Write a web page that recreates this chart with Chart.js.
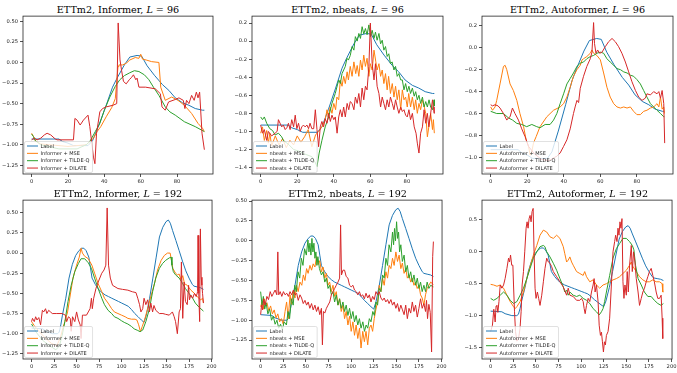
<!DOCTYPE html>
<html>
<head>
<meta charset="utf-8">
<script src="https://cdn.jsdelivr.net/npm/chart.js@4.4.1/dist/chart.umd.min.js"></script>
<style>
  body { margin: 0; background: #fff; width: 677px; height: 373px; overflow: hidden; position: relative; }
  canvas { position: absolute; }
  .ttl { position: absolute; font-family: "DejaVu Serif"; font-size: 9.6px; line-height: 10px; text-align: center; white-space: nowrap; color: #000; }
</style>
</head>
<body>
<script>
// ---- ticks ----
const xTicks96 = [0, 20, 40, 60, 80];
const xTicks192 = [0, 25, 50, 75, 100, 125, 150, 175, 200];
const yTicksInf96 = [-1.25, -1.0, -0.75, -0.5, -0.25, 0, 0.25, 0.5];
const yTicksNb96 = [-1.4, -1.2, -1.0, -0.8, -0.6, -0.4, -0.2, 0, 0.2];
const yTicksAuto96 = [-1.0, -0.8, -0.6, -0.4, -0.2, 0, 0.2];
const yTicksInf192 = [-1.25, -1.0, -0.75, -0.5, -0.25, 0, 0.25, 0.5];
const yTicksNb192 = [-1.25, -1.0, -0.75, -0.5, -0.25, 0, 0.25, 0.5];
const yTicksAuto192 = [-1.5, -1.0, -0.5, 0, 0.5];

// ---- ground truth ----
const label96 = [[0,-0.93],[15,-0.93],[17,-0.96],[20,-0.98],[23,-1.01],[31,-1.01],[33.5,-0.95],[37,-0.76],[41,-0.52],[44.5,-0.30],[47,-0.19],[51,-0.03],[54,0.066],[58,0.085],[60.5,0.077],[63.5,-0.04],[67.5,-0.155],[72,-0.27],[75.5,-0.34],[79,-0.43],[83,-0.49],[86.5,-0.52],[90,-0.56],[94,-0.58],[95,-0.58]];
const label192 = [[0,-0.93],[12.4,-0.94],[16,-0.97],[23.4,-1.0],[28.9,-1.0],[30.7,-0.98],[32.5,-0.89],[34.3,-0.77],[38,-0.56],[41.6,-0.31],[45.3,-0.14],[49,-0.03],[52.6,0.03],[55.5,0.06],[58.1,0.06],[60.6,0.03],[63.6,-0.05],[65.4,-0.18],[67.2,-0.31],[70.9,-0.39],[74.5,-0.45],[78.2,-0.49],[81.8,-0.52],[85.5,-0.54],[89.1,-0.56],[92.8,-0.58],[96.5,-0.6],[100.1,-0.62],[103.8,-0.64],[107.4,-0.66],[111,-0.7],[114.7,-0.75],[118.4,-0.79],[122,-0.83],[125,-0.86],[127.5,-0.77],[131.2,-0.56],[134.8,-0.31],[138.5,-0.05],[142.1,0.2],[145.8,0.32],[149.4,0.39],[152,0.41],[154.2,0.37],[156.7,0.28],[160.4,0.155],[164,0.03],[167.7,-0.1],[171.4,-0.22],[175,-0.31],[178.7,-0.39],[180.5,-0.41],[184.1,-0.42],[187.8,-0.43],[191,-0.45]];

// ---- Informer, L = 96 ----
const inf96Mse = [[0,-0.86],[1,-0.9],[2,-0.95],[5,-0.99],[10,-1.0],[20,-1.02],[30,-1.0],[34,-0.92],[36,-0.84],[38,-0.78],[41,-0.66],[44,-0.55],[46,-0.44],[47.5,-0.05],[48,-0.03],[50,-0.03],[52,-0.01],[54,0.03],[57,0.06],[59,0.05],[60,0.1],[61,0.04],[63,0.03],[66,0.01],[70,0.0],[71,-0.3],[73.5,-0.46],[77,-0.42],[80.5,-0.46],[84,-0.52],[88,-0.62],[91.5,-0.74],[94,-0.8],[95,-0.84]];
const inf96Tilde = [[0,-0.87],[1,-0.9],[2,-0.95],[5,-1.0],[15,-1.05],[25,-1.05],[30,-1.0],[32,-0.96],[35,-0.84],[37.5,-0.74],[40,-0.58],[43,-0.42],[46,-0.29],[48.5,-0.21],[51,-0.16],[54,-0.125],[56.5,-0.1],[59,-0.11],[62,-0.15],[64.5,-0.21],[67,-0.3],[70,-0.4],[73.5,-0.54],[76,-0.6],[79,-0.64],[84,-0.72],[90,-0.78],[95,-0.84]];
const inf96Dilate = [[0,-0.94],[1.5,-0.92],[3,-0.94],[5,-0.92],[7,-0.88],[8.5,-0.86],[10.5,-0.88],[13,-0.93],[14,-0.94],[23,-0.94],[23.8,-0.68],[25,-0.7],[26.7,-0.76],[28.5,-0.7],[31,-0.64],[32,-0.78],[34,-1.15],[34.8,-1.23],[35.7,-0.86],[37.5,-0.6],[39,-0.56],[41,-0.54],[44.7,-0.52],[46.8,-0.5],[47.6,0.48],[48.6,0.03],[49.5,-0.1],[50.5,-0.23],[52,-0.26],[53.7,-0.21],[55,-0.18],[56,-0.15],[57.3,-0.21],[58,-0.19],[59,-0.3],[62.7,-0.3],[68,-0.32],[70.8,-0.38],[71.7,-0.54],[73.5,-0.58],[75.3,-0.48],[79,-0.45],[81,-0.43],[83.4,-0.46],[84.3,-0.56],[85.2,-0.46],[86.5,-0.5],[88,-0.4],[89.4,-0.46],[90.6,-0.36],[91.5,-0.43],[92.4,-0.36],[93.7,-0.86],[95,-1.06]];

// ---- nbeats, L = 96 ----
const nb96Mse = [[0,-1.02],[1,-0.95],[2,-1.1],[3.3,-0.99],[4.2,-1.13],[5,-1.02],[6,-1.16],[8,-1.05],[10,-1.15],[12,-1.08],[14,-1.18],[16,-1.1],[18,-1.15],[20,-1.05],[22,-1.12],[24,-1.06],[26,-0.98],[28,-1.17],[30,-1.04],[31.7,-1.0],[33.5,-0.95],[35.3,-0.87],[36.3,-0.76],[37,-0.84],[38,-0.73],[39,-0.8],[40,-0.69],[41,-0.76],[41.7,-0.62],[42.7,-0.65],[43.6,-0.43],[44.5,-0.5],[45.4,-0.39],[46.3,-0.47],[47.3,-0.34],[48,-0.43],[49,-0.28],[50,-0.39],[51,-0.23],[52,-0.36],[52.8,-0.27],[53.7,-0.39],[54.6,-0.21],[55.5,-0.32],[56.4,-0.155],[57.3,-0.28],[58.2,-0.19],[59.2,-0.39],[60,-0.25],[61,-0.32],[62,-0.1],[63,-0.23],[63.7,-0.32],[64.7,-0.25],[65.6,-0.39],[66.5,-0.32],[67.4,-0.47],[68.3,-0.36],[69.2,-0.54],[70,-0.39],[71,-0.58],[72,-0.47],[72.9,-0.62],[73.8,-0.5],[74.7,-0.65],[75.6,-0.54],[76.6,-0.76],[77.5,-0.54],[78.4,-0.65],[79.3,-0.62],[80.2,-0.73],[81,-0.58],[82,-0.73],[83,-0.62],[84,-0.76],[84.8,-0.65],[85.7,-0.8],[86.6,-0.69],[87.5,-0.76],[88.5,-0.65],[89.4,-0.72],[90.3,-0.8],[91.2,-1.06],[92,-0.95],[93,-0.8],[94,-0.98],[94.5,-0.87],[95,-1.02]];
const nb96Tilde = [[0,-0.84],[1,-0.87],[2,-0.84],[3.3,-0.91],[5,-0.97],[6.5,-0.99],[7.9,-1.04],[9.7,-1.02],[11.5,-1.06],[12.4,-1.1],[15,-1.14],[18,-1.2],[21,-1.22],[24,-1.25],[28,-1.28],[30,-1.35],[30.8,-1.39],[32,-1.24],[33.5,-1.1],[35.3,-0.95],[37.2,-0.84],[39,-0.69],[40.8,-0.58],[42.7,-0.43],[43.6,-0.47],[44.5,-0.36],[46.3,-0.28],[47.2,-0.19],[48,-0.21],[49,-0.16],[50,-0.06],[51,-0.1],[51.8,0.05],[52.8,0.0],[53.7,0.085],[54.6,0.03],[55.5,0.16],[56.4,0.08],[57.3,0.14],[58.2,0.07],[59.2,0.18],[60.1,0.05],[61,0.12],[62,0.03],[62.8,0.1],[63.7,0.01],[64.7,0.085],[65.6,-0.03],[66.5,0.01],[67.4,-0.1],[68.3,-0.06],[69.2,-0.17],[70.1,-0.14],[71,-0.25],[71.9,-0.23],[72.9,-0.32],[73.8,-0.28],[74.7,-0.39],[75.6,-0.36],[76.6,-0.43],[77.5,-0.43],[78.4,-0.54],[79.3,-0.47],[80.2,-0.56],[81.1,-0.5],[82,-0.58],[83,-0.52],[84,-0.61],[84.8,-0.56],[85.7,-0.65],[86.6,-0.6],[87.5,-0.69],[88.5,-0.62],[89.4,-0.73],[90.3,-0.67],[91.2,-0.73],[92.1,-0.65],[93,-0.73],[94,-0.76],[94.9,-0.65],[95,-0.72]];
const nb96Dilate = [[0,-0.93],[1,-1.02],[2,-0.98],[3.3,-1.1],[4.2,-1.0],[6,-1.05],[7.9,-1.02],[9,-1.0],[9.7,-0.87],[11.5,-0.95],[12.4,-0.93],[13.4,-0.98],[14.3,-0.96],[15.2,-0.91],[16.1,-0.98],[17,-0.87],[18,-0.95],[18.9,-0.82],[19.8,-0.97],[20.7,-0.91],[21.6,-1.0],[22.5,-0.95],[23.4,-0.93],[24.3,-0.95],[25.3,-0.93],[26.2,-0.97],[27,-0.91],[28,-0.97],[29,-0.97],[29.9,-0.76],[30.8,-0.98],[31.7,-1.17],[32.6,-0.95],[33.5,-0.89],[34.4,-0.95],[35.3,-0.86],[36.3,-0.91],[37.2,-0.8],[38.1,-0.89],[39,-0.82],[40,-0.87],[40.8,-0.84],[41.8,-1.02],[42.7,-0.84],[43.6,-0.76],[44.5,-0.84],[45.4,-0.73],[46.3,-0.84],[47.3,-0.69],[48.2,-0.76],[49,-0.67],[50,-0.69],[51,-0.76],[51.8,-0.62],[52.8,-0.69],[53.7,-0.58],[54.6,-0.73],[55.5,-0.52],[56.4,-0.65],[57.3,-0.5],[58.2,-0.54],[59.2,-0.28],[60,0.2],[61,-0.25],[62,-0.43],[62.8,-0.25],[63.7,-0.5],[64.7,-0.58],[65.6,-0.73],[66.5,-0.62],[67.4,-0.69],[68.3,-0.76],[69.2,-0.65],[70.1,-0.73],[71,-0.62],[72,-0.69],[72.9,-0.76],[73.8,-0.65],[74.7,-0.73],[75.6,-0.8],[76.6,-0.73],[77.5,-0.78],[78.4,-0.76],[79.3,-0.82],[80.2,-0.84],[81.1,-0.76],[82,-0.87],[83,-0.8],[84,-0.95],[85,-1.02],[85.7,-1.13],[86.6,-1.24],[87.5,-1.02],[88.5,-0.95],[89.4,-0.76],[90.3,-0.91],[91.2,-0.8],[92,-0.95],[93,-0.8],[94,-0.65],[94.9,-0.8],[95,-0.73]];

// ---- Autoformer, L = 96 ----
const auto96Mse = [[0,-0.54],[1,-0.57],[2.4,-0.54],[3.3,-0.48],[5.1,-0.33],[7,-0.17],[7.9,-0.16],[8.8,-0.2],[10.6,-0.33],[12.4,-0.39],[14.3,-0.48],[16,-0.6],[18,-0.72],[19.4,-0.84],[20.7,-0.9],[21.6,-0.98],[22.5,-0.95],[23.4,-0.87],[24.9,-0.81],[27,-0.72],[30.7,-0.63],[34.4,-0.57],[38,-0.54],[39.9,-0.51],[41.7,-0.45],[43.5,-0.36],[45.3,-0.26],[47.2,-0.2],[49,-0.16],[50,-0.11],[50.8,-0.1],[52.6,-0.08],[54.5,-0.05],[55.4,-0.02],[56.3,-0.05],[58.1,-0.07],[60,-0.11],[61.8,-0.23],[63.6,-0.36],[65.4,-0.45],[67.3,-0.51],[69.1,-0.54],[71,-0.55],[72.8,-0.54],[74.6,-0.55],[76.4,-0.54],[78.2,-0.58],[80,-0.61],[81.9,-0.61],[83.7,-0.58],[85.5,-0.57],[87.4,-0.55],[89.2,-0.54],[91,-0.51],[92,-0.54],[92.9,-0.45],[93.8,-0.56],[94.7,-0.54],[95,-0.6]];
const auto96Tilde = [[0,-0.58],[3.3,-0.6],[7,-0.6],[9.7,-0.64],[12,-0.66],[14.3,-0.69],[17,-0.7],[19.7,-0.72],[22.5,-0.7],[25.2,-0.72],[27,-0.73],[29.8,-0.7],[32.5,-0.7],[34.4,-0.66],[36.2,-0.6],[38,-0.51],[39.9,-0.42],[41.7,-0.33],[43.5,-0.28],[45.3,-0.23],[47.2,-0.17],[49,-0.14],[50.8,-0.13],[52.6,-0.1],[54.5,-0.08],[56.3,-0.07],[58.1,-0.05],[60,-0.04],[61.8,-0.05],[63.6,-0.1],[65.4,-0.13],[67.3,-0.16],[69.1,-0.19],[71,-0.2],[72.8,-0.22],[74.6,-0.23],[76.4,-0.25],[78.2,-0.26],[80,-0.29],[81.9,-0.33],[83.7,-0.39],[85.5,-0.45],[87.4,-0.51],[89.2,-0.54],[91,-0.57],[92.9,-0.6],[94.7,-0.63],[95,-0.63]];
const auto96Dilate = [[0,-0.52],[1,-0.53],[2.4,-0.52],[4,-0.53],[5.1,-0.55],[7,-0.6],[8.8,-0.66],[9.7,-0.64],[10.6,-0.63],[11.9,-0.55],[13.3,-0.6],[15.2,-0.66],[17,-0.74],[18.8,-0.81],[20.7,-0.9],[24,-0.97],[28,-1.02],[32,-1.03],[35,-1.0],[36.2,-0.99],[38,-0.96],[39.9,-0.9],[41.7,-0.84],[43.5,-0.74],[45.3,-0.6],[46.2,-0.54],[47.2,-0.48],[48.1,-0.5],[49,-0.37],[50.8,-0.26],[52.6,-0.17],[54.5,-0.1],[55.4,-0.04],[56.3,0.23],[56.8,0.04],[57.6,-0.05],[58.5,-0.02],[59.6,-0.05],[60.9,-0.04],[62.7,0.01],[64.5,0.055],[66.4,0.085],[68.2,0.055],[70,0.01],[71.8,-0.05],[73.7,-0.13],[75.5,-0.22],[77.3,-0.31],[79.2,-0.39],[81,-0.45],[82.8,-0.48],[84.6,-0.46],[85.5,-0.42],[87.4,-0.43],[89.2,-0.4],[91,-0.42],[92,-0.4],[92.9,-0.46],[93.8,-0.39],[94.7,-0.51],[95.2,-0.87]];

// ---- Informer, L = 192 ----
const inf192Mse = [[0,-0.85],[3,-0.9],[8,-0.97],[15,-1.05],[22,-1.12],[28,-1.15],[32,-1.05],[35,-0.92],[37,-0.85],[40,-0.73],[43,-0.52],[46,-0.31],[50,-0.15],[53,-0.05],[55,0.06],[56.5,0.0],[59,-0.04],[63,-0.07],[67,-0.15],[70,-0.25],[74,-0.38],[78,-0.48],[81,-0.56],[85,-0.62],[89,-0.69],[92,-0.73],[96,-0.75],[100,-0.77],[104,-0.79],[107,-0.81],[111,-0.82],[115,-0.82],[117,-0.83],[119,-0.89],[121,-0.975],[123,-0.91],[125.5,-0.83],[129,-0.69],[133,-0.52],[137,-0.36],[140,-0.21],[144,-0.09],[147.5,-0.03],[151,0.0],[154,0.0],[155.5,-0.09],[157,-0.19],[160,-0.25],[162,-0.27],[164,-0.26],[166,-0.33],[168,-0.28],[170,-0.38],[173,-0.4],[177,-0.46],[181,-0.5],[184,-0.54],[186,-0.56],[188,-0.58],[190,-0.56],[191,-0.62]];
const inf192Tilde = [[0,-0.88],[5,-0.98],[12,-1.08],[20,-1.15],[27,-1.2],[31,-1.15],[34,-1.02],[37,-0.85],[40.5,-0.6],[44,-0.4],[48,-0.23],[52,-0.13],[55,-0.07],[59,-0.07],[63,-0.12],[66.5,-0.19],[70,-0.31],[74,-0.44],[78,-0.56],[81,-0.64],[85,-0.71],[89,-0.75],[92,-0.79],[96,-0.81],[100,-0.84],[103,-0.86],[107,-0.88],[111,-0.91],[114,-0.94],[118,-0.96],[120.5,-0.975],[123.5,-0.955],[127,-0.85],[131,-0.69],[134.5,-0.48],[138,-0.31],[142,-0.19],[145.5,-0.13],[149,-0.09],[153,-0.06],[155,-0.05],[156,-0.15],[157.5,-0.23],[160,-0.27],[164,-0.31],[168,-0.38],[171,-0.44],[175,-0.5],[179,-0.56],[182,-0.62],[186,-0.67],[191,-0.72]];
const inf192Dilate = [[0,-0.85],[1,-0.81],[3,-0.85],[4.5,-0.79],[6,-0.83],[8,-0.8],[10,-0.89],[12,-0.71],[13.5,-0.73],[15.5,-0.69],[17,-0.75],[19,-0.71],[21,-0.73],[23,-0.75],[28,-0.75],[34,-0.75],[37.5,-0.77],[39,-0.85],[41,-0.79],[43,-0.81],[44,-0.97],[45.5,-0.79],[48,-0.85],[50,-0.73],[52,-0.83],[54,-0.89],[55,-1.06],[56.5,-0.77],[58,-0.77],[61,-0.77],[63,-0.73],[65,-0.69],[66.5,-0.56],[67.5,-0.69],[69,-0.56],[71.5,-0.44],[74,-0.36],[78,-0.25],[80.5,-0.21],[82.5,-0.15],[84,0.56],[85.5,-0.15],[87.5,-0.31],[90,-0.4],[96,-0.44],[101,-0.45],[107,-0.46],[112,-0.48],[116,-0.49],[118,-0.56],[120,-0.64],[121.5,-0.73],[123.5,-0.69],[125,-0.56],[127,-0.64],[129,-0.58],[131,-0.73],[132.5,-0.62],[134.5,-0.73],[136,-0.65],[138,-0.71],[142,-0.75],[146,-0.75],[149,-0.76],[153,-0.77],[156.5,-0.73],[158.5,-0.79],[160,-0.85],[162,-1.0],[164,-0.73],[165.5,-0.69],[166.5,-0.11],[168,-0.81],[169.5,-0.36],[171,-0.6],[173,-0.64],[174.5,-0.4],[175.5,-0.58],[177,-0.52],[179,-0.56],[181,-0.5],[183,-0.54],[184.5,-0.48],[185,0.22],[185.8,-0.5],[186.8,-0.85],[187.6,0.3],[188.5,-0.3],[189.3,-0.4],[190,-0.5],[191,-0.62]];

// ---- nbeats, L = 192 ----
const nb192Mse = [[0,-0.83],[1.5,-0.77],[3,-0.86],[4,-0.73],[5.5,-0.8],[7,-0.78],[9,-0.88],[11,-0.82],[13,-0.92],[15,-0.87],[17,-0.97],[19,-0.92],[21,-1.02],[23,-0.98],[25,-1.05],[27,-0.89],[28.7,-0.77],[30.5,-0.98],[32.5,-0.68],[34,-0.8],[36,-0.64],[38,-0.72],[39.7,-0.56],[41.5,-0.64],[43.5,-0.52],[45.5,-0.56],[47.2,-0.43],[49,-0.5],[50.8,-0.35],[52.5,-0.41],[54.5,-0.31],[56.3,-0.37],[58.1,-0.29],[60,-0.33],[61.8,-0.2],[63.6,-0.3],[65.4,-0.25],[67.2,-0.39],[69,-0.33],[70.9,-0.47],[72.7,-0.41],[74.5,-0.56],[76.3,-0.52],[78.1,-0.64],[80,-0.56],[81.8,-0.7],[83.6,-0.64],[85.5,-0.81],[87.3,-0.73],[89.1,-0.89],[91,-0.81],[92.8,-0.98],[94.6,-0.89],[96.5,-1.06],[98.3,-0.95],[100.1,-1.14],[102,-1.02],[103.8,-1.19],[105.6,-1.06],[107.4,-1.23],[109.3,-1.1],[111,-1.35],[112.9,-1.14],[114.7,-1.27],[116.5,-1.14],[118.4,-1.31],[120.2,-1.1],[122,-1.06],[123.8,-1.14],[125.6,-0.98],[127.5,-0.86],[129.3,-0.77],[131.1,-0.56],[133,-0.64],[134.8,-0.47],[136.6,-0.56],[138.5,-0.39],[140.3,-0.47],[142.1,-0.31],[144,-0.35],[145.8,-0.22],[147.6,-0.31],[149.5,-0.14],[151.3,-0.26],[153.1,-0.18],[155,-0.35],[156.7,-0.28],[158.6,-0.41],[160.4,-0.35],[162.2,-0.47],[164,-0.43],[165.9,-0.52],[167.7,-0.47],[169.5,-0.56],[171.3,-0.52],[173.1,-0.6],[175,-0.56],[176.8,-0.68],[178.6,-0.72],[180.5,-0.81],[182.3,-0.68],[184.1,-0.6],[186,-0.56],[188,-0.52],[191,-0.55]];
const nb192Tilde = [[0,-0.64],[1.5,-0.81],[3,-0.7],[4.5,-0.86],[6,-0.78],[8,-0.92],[10,-0.86],[12,-1.0],[14,-0.95],[16,-1.05],[18,-1.0],[20,-1.1],[22,-1.05],[24,-1.12],[26,-1.02],[28.5,-1.06],[30.3,-0.89],[32,-0.98],[34,-0.73],[36,-0.81],[37.7,-0.56],[39.5,-0.64],[41.3,-0.39],[43.2,-0.47],[45,-0.22],[46.8,-0.31],[48.6,-0.1],[50.5,-0.18],[52.3,0.01],[53.4,-0.14],[54.5,-0.03],[55.6,-0.18],[56.7,0.03],[57.8,-0.14],[58.9,-0.03],[60,-0.22],[61.1,-0.14],[62.2,-0.31],[63.3,-0.2],[65,-0.35],[67.2,-0.43],[69,-0.39],[70.9,-0.52],[72.7,-0.47],[74.5,-0.6],[76.3,-0.56],[78.2,-0.68],[80,-0.64],[81.8,-0.77],[83.6,-0.68],[85.5,-0.81],[87.3,-0.73],[89.1,-0.85],[91,-0.77],[92.8,-0.89],[94.6,-0.81],[96.5,-0.94],[98.3,-0.85],[100.1,-0.98],[102,-0.89],[103.8,-1.02],[105.6,-0.94],[107.4,-1.06],[109.2,-0.98],[111,-1.1],[113,-1.02],[114.8,-1.14],[116.6,-1.06],[118.4,-1.1],[120.2,-0.98],[122,-1.02],[124,-0.89],[125.7,-0.94],[127.5,-0.77],[129.3,-0.81],[131,-0.6],[133,-0.64],[134.8,-0.43],[136.6,-0.47],[138.5,-0.22],[140.3,-0.31],[142,-0.05],[144,-0.14],[145.8,0.11],[147,-0.05],[148,0.155],[149.1,0.0],[150.3,0.24],[151.4,0.03],[152.5,0.11],[153.6,-0.14],[155,-0.05],[156.7,-0.26],[158.6,-0.18],[160.4,-0.39],[162.2,-0.31],[164,-0.47],[165.9,-0.39],[167.7,-0.52],[169.5,-0.43],[171.4,-0.56],[173.2,-0.47],[175,-0.6],[176.8,-0.52],[178.6,-0.64],[180.5,-0.56],[182.3,-0.64],[184.1,-0.52],[186,-0.6],[188,-0.56],[191,-0.58]];
const nb192Dilate = [[0,-0.93],[1,-0.81],[2.2,-0.87],[3.3,-0.73],[5,-0.81],[6.9,-0.7],[8.7,-0.74],[10.6,-0.64],[12.4,-0.7],[14.2,-0.66],[16,-0.62],[17.9,-0.68],[19,-0.14],[20,-0.68],[21.6,-0.64],[23.4,-0.7],[25.2,-0.64],[27,-0.68],[28.9,-0.66],[30.7,-0.7],[32.5,-0.64],[34.3,-0.68],[36.2,-0.62],[38,-0.68],[39.8,-0.66],[41.6,-0.75],[43.5,-0.68],[45.3,-0.72],[47.1,-0.79],[49,-0.75],[50.8,-0.81],[52.6,-0.77],[54.4,-0.85],[56.3,-0.79],[58.1,-0.87],[60,-0.81],[61.8,-0.89],[63.6,-0.83],[65.4,-0.93],[67.2,-0.85],[68.3,-1.31],[69.4,-0.89],[70.9,-0.91],[72.7,-0.85],[74.5,-0.81],[76.4,-0.77],[78.2,-0.68],[80,-0.64],[81.8,-0.6],[83.6,-0.56],[85.5,-0.52],[87.3,-0.47],[88.4,0.2],[89.4,-0.43],[91,-0.37],[92.8,-0.37],[94.6,-0.45],[96.5,-0.47],[98.3,-0.56],[100.1,-0.58],[102,-0.56],[103.8,-0.62],[105.6,-0.64],[107.4,-0.68],[109.2,-0.64],[111,-0.7],[112.9,-0.68],[114.7,-0.73],[116.5,-0.66],[118.4,-0.72],[120.2,-0.68],[122,-0.77],[123.8,-0.7],[125.6,-0.74],[127.5,-0.64],[129.3,-0.68],[131.1,-0.64],[133,-0.72],[134.8,-0.75],[136.6,-0.72],[138.4,-0.77],[140.3,-0.74],[142,-0.79],[144,-0.74],[145.8,-0.81],[147.6,-0.77],[149.5,-0.85],[151.3,-0.79],[153.1,-0.89],[155,-0.81],[156.8,-0.87],[158.6,-0.93],[160.4,-0.81],[162.2,-0.98],[164,-0.85],[165.9,-0.91],[167.7,-0.77],[169.5,-0.89],[171.3,-0.81],[173.2,-0.96],[175,-0.85],[176.8,-0.73],[178.6,-0.85],[180.5,-0.79],[182.3,-0.89],[183.4,-0.75],[184.5,-0.98],[186,-0.8],[187.5,-0.9],[189,-1.4],[190.2,-0.2],[191,-0.01]];

// ---- Autoformer, L = 192 ----
const auto192Mse = [[0,-0.51],[3.3,-0.52],[7,-0.54],[10.6,-0.52],[14.3,-0.57],[18,-0.68],[21.6,-0.78],[25.3,-0.86],[27.1,-0.89],[29,-0.86],[32.6,-0.78],[36.3,-0.63],[40,-0.42],[43.6,-0.23],[47.3,-0.05],[51,0.1],[54.6,0.26],[58.3,0.34],[62,0.31],[65.6,0.235],[69.3,0.21],[73,0.26],[76.6,0.21],[80.3,0.08],[82,-0.03],[84,-0.16],[85.8,-0.13],[87.6,-0.08],[89.5,-0.16],[91.3,-0.21],[95,-0.31],[98.6,-0.34],[102.3,-0.37],[104,-0.31],[106,-0.39],[109.6,-0.47],[113.3,-0.44],[117,-0.52],[120.6,-0.57],[124.3,-0.52],[128,-0.5],[131.6,-0.47],[135.3,-0.44],[139,-0.42],[142.6,-0.39],[146.3,-0.34],[150,-0.29],[153.6,-0.21],[155.5,-0.16],[157.3,-0.23],[161,-0.31],[164.6,-0.39],[168.3,-0.44],[172,-0.47],[175.6,-0.47],[179.3,-0.44],[183,-0.47],[186.7,-0.47],[189.6,-0.5],[190.3,-0.63],[191,-0.63]];
const auto192Tilde = [[0,-0.73],[3.3,-0.76],[7,-0.73],[10.6,-0.68],[14.3,-0.63],[18,-0.68],[21.6,-0.76],[25.3,-0.81],[29,-0.78],[32.6,-0.68],[36.3,-0.57],[40,-0.42],[43.6,-0.26],[47.3,-0.1],[51,0.0],[54.6,0.08],[58.3,0.1],[60,0.08],[62,0.0],[65.6,-0.08],[69.3,-0.18],[73,-0.29],[76.6,-0.42],[80.3,-0.55],[82,-0.63],[84,-0.6],[85.8,-0.68],[87.6,-0.63],[91.3,-0.68],[95,-0.7],[98.6,-0.68],[102.3,-0.73],[106,-0.76],[109.6,-0.81],[113.3,-0.89],[117,-0.94],[120,-0.99],[122.5,-0.94],[124.3,-0.89],[126,-0.78],[128,-0.63],[131.6,-0.37],[135.3,-0.1],[139,0.05],[142.6,0.13],[146.3,0.21],[150,0.21],[153.6,0.16],[156.6,0.1],[158.4,0.03],[160.2,-0.21],[163,-0.42],[166.5,-0.52],[170,-0.63],[173.8,-0.7],[177.5,-0.7],[181,-0.76],[184.8,-0.81],[188.5,-0.84],[191,-0.81]];
const auto192Dilate = [[0,-1.25],[2,-1.15],[3.5,-0.9],[5,-1.1],[6,-0.85],[7,-0.84],[8,-0.95],[9.2,-0.78],[10.6,-0.52],[12.4,-0.57],[14.3,-0.52],[16,-0.42],[18,-0.26],[19.8,-0.1],[20.9,-0.16],[22,-0.05],[23.3,-0.21],[24.6,-0.21],[25.3,-0.52],[26.4,-0.94],[27.5,-1.25],[29,-1.4],[31,-1.35],[32.5,-1.2],[33.7,-0.94],[34.8,-0.52],[36.3,-0.31],[37.7,0.0],[39.2,0.37],[40.3,0.47],[41.4,0.37],[42.5,0.52],[43.6,0.57],[44.7,0.47],[45.8,0.63],[47,0.68],[48,0.0],[49.1,-0.57],[50.2,-0.73],[51.7,-0.63],[53.1,-0.73],[54.6,-0.84],[56.5,-0.68],[58.3,-0.47],[60.1,-0.26],[62,-0.1],[63.8,-0.16],[65.6,-0.18],[67.4,-0.23],[69.3,-0.31],[73,-0.39],[76.6,-0.47],[80.3,-0.55],[84,-0.68],[85.8,-0.57],[87.6,-0.68],[91.3,-0.7],[95,-0.76],[98.6,-0.76],[100.5,-0.73],[102.3,-0.78],[103.4,-0.89],[104.5,-0.97],[106,-0.84],[107.8,-0.73],[109.6,-0.78],[111.5,-0.63],[113.3,-0.52],[114.4,-0.42],[115.5,-0.63],[117,-0.52],[118.8,-0.78],[120,-1.15],[121.4,-1.31],[122.5,-1.26],[123.6,-1.41],[124.7,-1.57],[125.8,-1.41],[126.9,-1.46],[128,-1.31],[129.8,-1.25],[131.6,-1.04],[133.5,-0.52],[135.3,0.0],[137.1,0.16],[138.2,0.26],[139.7,0.16],[140.8,0.37],[141.9,0.26],[143,0.47],[144.1,0.37],[145.2,0.52],[146.3,-0.47],[147.4,-0.73],[148.5,-0.52],[150,-0.68],[151,-0.31],[152.2,-0.63],[153.6,-0.21],[155.5,0.1],[156.6,-0.31],[158,0.0],[159.5,-0.16],[161,-0.42],[163,-0.63],[164.6,-0.84],[166.5,-0.73],[168.3,-0.63],[170.1,-0.57],[172,-0.47],[173.8,-0.39],[175.6,-0.31],[177.5,-0.26],[179.3,-0.37],[181,-0.47],[183,-0.63],[184.8,-0.73],[186.7,-0.73],[188.5,-0.68],[189.6,-1.04],[190.3,-1.36]];

const blue = '#1f77b4', orange = '#ff7f0e', green = '#2ca02c', red = '#d62728';

const panels = [
  { model: 'Informer',   L: 96,  box: [23, 16, 190, 158],  x: [-4.75, 99.75], y: [-1.355, 0.563], xt: xTicks96,  yt: yTicksInf96,  dec: 2, lines: [label96, inf96Mse, inf96Tilde, inf96Dilate] },
  { model: 'nbeats',     L: 96,  box: [252, 16, 191, 158], x: [-4.75, 99.75], y: [-1.472, 0.277], xt: xTicks96,  yt: yTicksNb96,   dec: 1, lines: [label96, nb96Mse, nb96Tilde, nb96Dilate] },
  { model: 'Autoformer', L: 96,  box: [482, 16, 191, 158], x: [-4.75, 99.75], y: [-1.152, 0.289], xt: xTicks96,  yt: yTicksAuto96, dec: 1, lines: [label96, auto96Mse, auto96Tilde, auto96Dilate] },
  { model: 'Informer',   L: 192, box: [23, 200, 190, 159], x: [-9.55, 200.55], y: [-1.314, 0.657], xt: xTicks192, yt: yTicksInf192, dec: 2, lines: [label192, inf192Mse, inf192Tilde, inf192Dilate] },
  { model: 'nbeats',     L: 192, box: [252, 200, 191, 159], x: [-9.55, 200.55], y: [-1.488, 0.512], xt: xTicks192, yt: yTicksNb192, dec: 2, lines: [label192, nb192Mse, nb192Tilde, nb192Dilate] },
  { model: 'Autoformer', L: 192, box: [482, 200, 191, 159], x: [-9.55, 200.55], y: [-1.68, 0.81], xt: xTicks192, yt: yTicksAuto192, dec: 1, lines: [label192, auto192Mse, auto192Tilde, auto192Dilate] }
];

const tickFont = { family: 'DejaVu Sans', size: 5.2 };
const ink = '#262626';

function fmt(v, dec) {
  const s = Math.abs(v).toFixed(dec);
  return (v < -1e-9 ? '\u2212' : '') + s;
}

// frame + legend drawn like matplotlib
const framePlugin = {
  id: 'frame',
  afterDraw(chart) {
    const { ctx, chartArea: a } = chart;
    ctx.save();
    ctx.strokeStyle = ink;
    ctx.lineWidth = 0.8;
    ctx.strokeRect(a.left, a.top, a.right - a.left, a.bottom - a.top);

    const ds = chart.data.datasets;
    ctx.font = '5px "DejaVu Sans"';
    const tw = Math.max(...ds.map(d => ctx.measureText(d.label).width));
    const w = tw + 19, h = 31;
    const x = a.left + 1.5, y = a.bottom - 1.5 - h;
    ctx.beginPath();
    if (ctx.roundRect) ctx.roundRect(x, y, w, h, 1.5); else ctx.rect(x, y, w, h);
    ctx.fillStyle = 'rgba(255,255,255,0.8)';
    ctx.fill();
    ctx.strokeStyle = '#cccccc';
    ctx.lineWidth = 0.6;
    ctx.stroke();
    ctx.textBaseline = 'middle';
    ds.forEach((d, i) => {
      const cy = y + 4.5 + i * 7.35;
      ctx.strokeStyle = d.borderColor;
      ctx.lineWidth = 1;
      ctx.beginPath();
      ctx.moveTo(x + 2.5, cy);
      ctx.lineTo(x + 13.5, cy);
      ctx.stroke();
      ctx.fillStyle = ink;
      ctx.fillText(d.label, x + 16, cy + 0.3);
    });
    ctx.restore();
  }
};

panels.forEach(p => {
  const [l, t, w, h] = p.box;
  const padL = 26, padT = 5, padR = 5, padB = 15;

  const ttl = document.createElement('div');
  ttl.className = 'ttl';
  ttl.style.left = l + 'px';
  ttl.style.width = w + 'px';
  ttl.style.top = (t - 11) + 'px';
  ttl.innerHTML = 'ETTm2, ' + p.model + ', <i>L</i> = ' + p.L;
  document.body.appendChild(ttl);

  const cv = document.createElement('canvas');
  cv.width = w + padL + padR;
  cv.height = h + padT + padB;
  cv.style.left = (l - padL) + 'px';
  cv.style.top = (t - padT) + 'px';
  document.body.appendChild(cv);

  const names = ['Label', p.model + ' + MSE', p.model + ' + TILDE-Q', p.model + ' + DILATE'];
  const colors = [blue, orange, green, red];

  new Chart(cv, {
    type: 'line',
    data: {
      datasets: p.lines.map((pts, i) => ({
        label: names[i],
        data: pts,
        borderColor: colors[i],
        borderWidth: 1,
        pointRadius: 0,
        tension: 0,
        fill: false,
        order: 3 - i
      }))
    },
    options: {
      responsive: false,
      animation: false,
      events: [],
      layout: { padding: { top: padT, right: padR, left: 0, bottom: 0 } },
      plugins: { legend: { display: false }, tooltip: { enabled: false }, title: { display: false } },
      scales: {
        x: {
          type: 'linear', min: p.x[0], max: p.x[1],
          afterBuildTicks: s => { s.ticks = p.xt.map(v => ({ value: v })); },
          afterFit: s => { s.height = padB; },
          ticks: { font: tickFont, color: ink, padding: 1.5, autoSkip: false, maxRotation: 0, callback: v => String(v) },
          grid: { drawOnChartArea: false, drawTicks: true, tickLength: 3, tickColor: ink, tickWidth: 0.8 },
          border: { display: false }
        },
        y: {
          type: 'linear', min: p.y[0], max: p.y[1],
          afterBuildTicks: s => { s.ticks = p.yt.map(v => ({ value: v })); },
          afterFit: s => { s.width = padL; },
          ticks: { font: tickFont, color: ink, padding: 2, autoSkip: false, callback: v => fmt(v, p.dec) },
          grid: { drawOnChartArea: false, drawTicks: true, tickLength: 3, tickColor: ink, tickWidth: 0.8 },
          border: { display: false }
        }
      }
    },
    plugins: [framePlugin]
  });
});
</script>
</body>
</html>
